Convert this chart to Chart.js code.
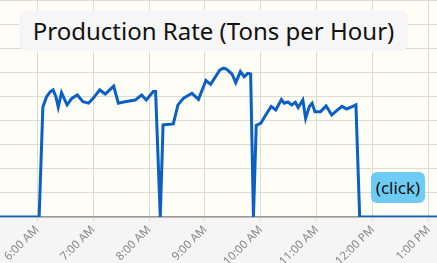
<!DOCTYPE html>
<html>
<head>
<meta charset="utf-8">
<script src="https://cdn.jsdelivr.net/npm/chart.js@4.4.1/dist/chart.umd.min.js"></script>
<style>
  html, body { margin: 0; padding: 0; background: #f5f5f5; }
  #wrap { position: relative; width: 437px; height: 263px; }
  canvas { display: block; }
  #title {
    position: absolute; left: 19px; top: 10px; width: 389px; height: 41px;
    background: #f6f6f6; border-radius: 8px; box-sizing: border-box;
    font-family: "Noto Sans", "Open Sans", sans-serif; font-size: 24px; color: #111;
    display: flex; align-items: center; justify-content: center;
  }
  #click {
    position: absolute; left: 371px; top: 172px; width: 54px; height: 31px;
    background: #6ecbf3; border-radius: 6px; box-sizing: border-box;
    font-family: "Noto Sans", "Open Sans", sans-serif; font-size: 17px; color: #111;
    display: flex; align-items: center; justify-content: center;
  }
</style>
</head>
<body>
<div id="wrap">
  <canvas id="c" width="437" height="263"></canvas>
  <div id="title">Production Rate (Tons per Hour)</div>
  <div id="click">(click)</div>
</div>
<script>
// time in minutes since midnight
const times = [320, 361, 362, 366, 370, 374, 377, 380, 382.5, 386, 392, 397, 403, 409, 415, 420, 427, 433, 442, 447, 454, 465, 472, 477, 484.5, 487,
  492, 495, 506, 511, 517, 526, 533, 541, 546, 556, 560, 563, 569, 573, 578, 582, 586, 589,
  592, 595, 600, 604, 611, 616, 622, 625, 629, 633, 637, 640, 645, 648, 652, 655, 658, 664, 670, 676, 681, 687, 692, 698, 702,
  706, 789];
const rates = [0, 0, 0, 45.6, 49.9, 52, 52.7, 49.9, 45.6, 51.6, 46.5, 49.2, 50.6, 47.8, 47.2, 49.2, 52.7, 51, 54.3, 47.2, 47.8, 48.5, 50.6, 48.5, 52, 52,
  0, 38.2, 38.6, 46.5, 49.3, 51.3, 48.8, 56.6, 55, 61, 61.7, 61.3, 59.3, 55.7, 60.3, 58.2, 59.6, 59.3,
  0, 38, 38.9, 41.6, 45.9, 44.4, 48.7, 47.2, 47.7, 46.5, 47.6, 45.4, 48.5, 40.9, 45.8, 47.2, 43.7, 43.7, 46.1, 42.3, 44, 45.9, 44.8, 45.8, 46.5,
  0, 0];
const tickLabels = {360: '6:00 AM', 420: '7:00 AM', 480: '8:00 AM', 540: '9:00 AM', 600: '10:00 AM', 660: '11:00 AM', 720: '12:00 PM', 780: '1:00 PM'};

const points = times.map((t, i) => ({x: t, y: rates[i]}));

const bgPlugin = {
  id: 'bg',
  beforeDraw(chart) {
    const {ctx, chartArea: a} = chart;
    ctx.save();
    ctx.fillStyle = '#f5f5f5';
    ctx.fillRect(0, 0, chart.width, chart.height);
    ctx.fillStyle = '#fffef6';
    ctx.fillRect(a.left, a.top, a.right - a.left, a.bottom - a.top);
    ctx.restore();
  }
};

new Chart(document.getElementById('c'), {
  type: 'line',
  data: {
    datasets: [{
      data: points,
      borderColor: '#0b60c6',
      borderWidth: 3,
      pointRadius: 0,
      tension: 0,
      fill: false
    }]
  },
  options: {
    responsive: false,
    animation: false,
    layout: { padding: 0 },
    plugins: { legend: { display: false }, tooltip: { enabled: false }, title: { display: false } },
    scales: {
      x: {
        type: 'linear',
        min: 320,
        max: 789,
        afterFit(s) { s.height = 46; s.paddingLeft = 0; s.paddingRight = 0; },
        ticks: {
          stepSize: 60,
          includeBounds: false,
          autoSkip: false,
          minRotation: 45,
          maxRotation: 45,
          color: '#888',
          font: { family: '"Noto Sans", sans-serif', size: 11.5 },
          padding: 2,
          callback: v => tickLabels[v] || ''
        },
        grid: { color: '#dedbd3', tickLength: 4, lineWidth: 1 },
        border: { color: '#9a9a9a', width: 1.5 }
      },
      y: {
        min: 0,
        max: 90,
        afterFit(s) { s.width = 0; },
        ticks: { display: false, stepSize: 10 },
        grid: { color: '#dedbd3', drawTicks: false, lineWidth: 1 },
        border: { display: false }
      }
    }
  },
  plugins: [bgPlugin]
});
</script>
</body>
</html>
